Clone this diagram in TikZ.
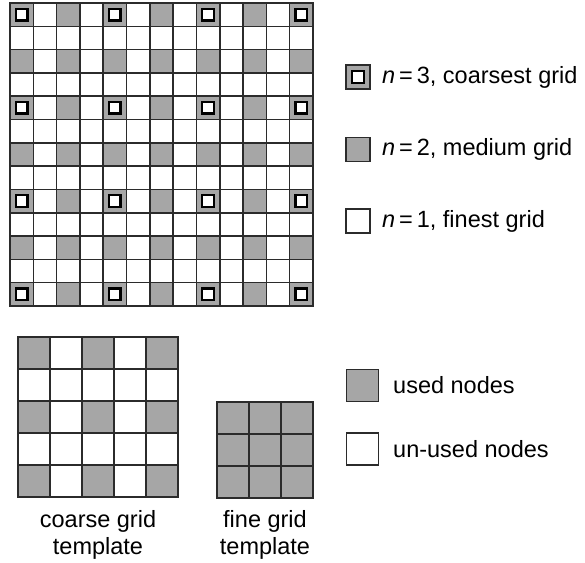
\documentclass[tikz,border=0pt]{standalone}
\usepackage{fontspec}
\setmainfont{Liberation Sans}
\definecolor{cellgray}{HTML}{A6A6A6}
\definecolor{gridline}{HTML}{2B2B2B}
\tikzset{
  cell/.style={draw=gridline, line width=1.6pt},
  graycell/.style={cell, fill=cellgray},
  whitecell/.style={cell, fill=white},
  coarsemark/.style={draw=black, line width=2.3pt, fill=white, minimum size=11.5pt, inner sep=0pt, outer sep=0pt},
  keybox/.style={draw=gridline, line width=1.8pt, inner sep=0pt, outer sep=0pt},
  lbl/.style={font=\fontsize{23.5}{28}\selectfont, inner sep=0pt, anchor=west},
  caption/.style={font=\fontsize{23.5}{27.5}\selectfont, inner sep=0pt, align=center},
}
\begin{document}
\begin{tikzpicture}[x=1pt,y=-1pt]
\useasboundingbox (0,0) rectangle (585,562);
% main grid 13x13
\def\cs{23.3}
\foreach \i in {0,...,12}{
  \foreach \j in {0,...,12}{
    \pgfmathtruncatemacro{\g}{(mod(\i,2)==0 && mod(\j,2)==0) ? 1 : 0}
    \ifnum\g=1
      \draw[graycell] ({10+\i*\cs},{3+\j*\cs}) rectangle ++(\cs,\cs);
    \else
      \draw[whitecell] ({10+\i*\cs},{3+\j*\cs}) rectangle ++(\cs,\cs);
    \fi
  }
}
\foreach \i in {0,4,8,12}{
  \foreach \j in {0,4,8,12}{
    \node[coarsemark] (m\i\j) at ({10+(\i+0.5)*\cs},{3+(\j+0.5)*\cs}) {};
  }
}
% legend for grid levels
\node[keybox, fill=cellgray, minimum size=24pt] (k3) at (358,77) {};
\node[coarsemark] (k3m) at (k3.center) {};
\node[lbl] (t3) at (382,77) {\textit{n}\,=\,3, coarsest grid};
\node[keybox, fill=cellgray, minimum size=24pt] (k2) at (358,149.5) {};
\node[lbl] (t2) at (382,149.5) {\textit{n}\,=\,2, medium grid};
\node[keybox, fill=white, minimum size=24pt] (k1) at (358,221) {};
\node[lbl] (t1) at (382,221) {\textit{n}\,=\,1, finest grid};
% coarse template 5x5
\foreach \i in {0,...,4}{
  \foreach \j in {0,...,4}{
    \pgfmathtruncatemacro{\g}{(mod(\i,2)==0 && mod(\j,2)==0) ? 1 : 0}
    \ifnum\g=1
      \draw[graycell] ({18+\i*32},{337+\j*32}) rectangle ++(32,32);
    \else
      \draw[whitecell] ({18+\i*32},{337+\j*32}) rectangle ++(32,32);
    \fi
  }
}
% fine template 3x3
\foreach \i in {0,...,2}{
  \foreach \j in {0,...,2}{
    \draw[graycell] ({217+\i*32},{402+\j*32}) rectangle ++(32,32);
  }
}
\node[caption] (cc) at (98,535) {coarse grid\\template};
\node[caption] (fc) at (265,535) {fine grid\\template};
% legend for nodes
\node[keybox, fill=cellgray, minimum size=32pt] (ku) at (362.5,385.5) {};
\node[lbl] (tu) at (393,385.5) {used nodes};
\node[keybox, fill=white, minimum size=32pt] (kn) at (362.5,449) {};
\node[lbl] (tn) at (393,449) {un-used nodes};
\end{tikzpicture}
\end{document}
